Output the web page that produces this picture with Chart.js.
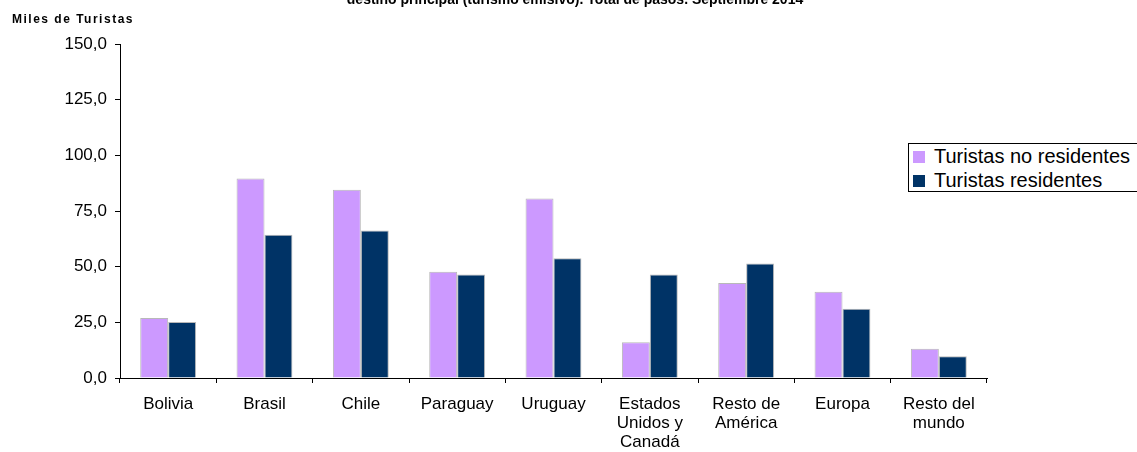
<!DOCTYPE html>
<html>
<head>
<meta charset="utf-8">
<script src="https://cdn.jsdelivr.net/npm/chart.js@4"></script>
<style>
  body { margin: 0; background: #fff; }
  #wrap { position: relative; width: 1137px; height: 452px; overflow: hidden; }
  #legend {
    position: absolute; left: 908px; top: 143px; width: 240px; height: 49px;
    border: 1px solid #000; background: #fff;
    font: 20px "Liberation Sans", Arial, sans-serif; color: #000;
    padding: 0 0 0 4px; box-sizing: border-box;
  }
  #legend div { height: 24px; line-height: 24px; white-space: nowrap; }
  #legend span { display: inline-block; width: 12px; height: 12px; margin-right: 9px; vertical-align: 0px; }
</style>
</head>
<body>
<div id="wrap">
  <canvas id="chart" width="1137" height="452"></canvas>
  <div id="legend"></div>
</div>
<script>
// Chart data
const categories = ['Bolivia', 'Brasil', 'Chile', 'Paraguay', 'Uruguay',
  ['Estados', 'Unidos y', 'Canadá'], ['Resto de', 'América'], 'Europa', ['Resto del', 'mundo']];
const noResidentes = [27.0, 89.6, 84.5, 47.7, 80.6, 16.1, 42.7, 38.7, 13.1];
const residentes = [25.2, 64.3, 66.2, 46.5, 53.8, 46.5, 51.4, 31.1, 9.8];
const yTicks = [0, 25, 50, 75, 100, 125, 150];

const seriesNames = ['Turistas no residentes', 'Turistas residentes'];
const seriesColors = ['#CC99FF', '#003366'];

const fontFamily = '"Liberation Sans", Arial, sans-serif';

// title and axis caption (title is cut off at the top in the original)
const textPlugin = {
  id: 'extraText',
  afterDraw(chart) {
    const ctx = chart.ctx;
    ctx.save();
    ctx.fillStyle = '#000';
    ctx.font = 'bold 14px ' + fontFamily;
    ctx.textAlign = 'center';
    ctx.textBaseline = 'alphabetic';
    ctx.fillText('destino principal (turismo emisivo). Total de pasos. Septiembre 2014', 575, 4);
    ctx.textAlign = 'left';
    ctx.font = 'bold 12px ' + fontFamily;
    ctx.letterSpacing = '1.5px';
    ctx.fillText('Miles de Turistas', 12, 23);
    ctx.restore();
  }
};

const ctx = document.getElementById('chart').getContext('2d');
new Chart(ctx, {
  type: 'bar',
  data: {
    labels: categories,
    datasets: [
      { label: seriesNames[0], data: noResidentes, backgroundColor: seriesColors[0], borderColor: '#b8b8b8', borderWidth: 1 },
      { label: seriesNames[1], data: residentes, backgroundColor: seriesColors[1], borderColor: '#b8b8b8', borderWidth: 1 }
    ]
  },
  options: {
    responsive: false,
    animation: false,
    layout: { padding: { top: 44, right: 150, left: 0, bottom: 0 } },
    datasets: { bar: { categoryPercentage: 0.58, barPercentage: 1.0 } },
    plugins: {
      legend: { display: false },
      tooltip: { enabled: false }
    },
    scales: {
      x: {
        grid: { drawOnChartArea: false, drawTicks: true, tickLength: 5, color: '#000', offset: true },
        border: { color: '#000', width: 1 },
        ticks: { color: '#000', font: { family: fontFamily, size: 17, lineHeight: 1.12 }, padding: 12, maxRotation: 0, autoSkip: false },
        afterFit(scale) { scale.height = 452 - 378; }
      },
      y: {
        min: 0,
        max: 150,
        afterBuildTicks(scale) { scale.ticks = yTicks.map(v => ({ value: v })); },
        grid: { drawOnChartArea: false, drawTicks: true, tickLength: 5, color: '#000' },
        border: { color: '#000', width: 1 },
        ticks: {
          color: '#000', font: { family: fontFamily, size: 17 }, padding: 8,
          callback: v => v.toFixed(1).replace('.', ',')
        },
        afterFit(scale) { scale.width = 120; }
      }
    }
  },
  plugins: [textPlugin]
});

// legend box
const legend = document.getElementById('legend');
seriesNames.forEach(function (name, i) {
  const row = document.createElement('div');
  row.innerHTML = '<span style="background:' + seriesColors[i] + '"></span>' + name;
  legend.appendChild(row);
});
</script>
</body>
</html>
